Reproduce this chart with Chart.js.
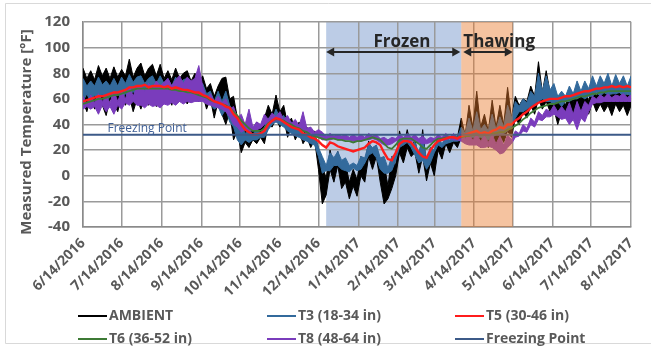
<!DOCTYPE html>
<html lang="en">
<head>
  <meta charset="UTF-8">
  <title>Measured Temperature</title>
  <style>
    html, body { margin: 0; padding: 0; background: #fff; }
    .chart-container { position: relative; width: 651px; height: 349px; }
  </style>
</head>
<body>
  <div class="chart-container">
    <canvas id="temperature-chart" width="651" height="349"></canvas>
  </div>

  <script src="https://cdn.jsdelivr.net/npm/chart.js@4.4.1/dist/chart.umd.min.js"></script>
  <script>
    // one sample every 3 days, day 0 = 6/14/2016
    const STEP_DAYS = 3;
    const X_MAX_DAYS = 426;
    const TICK_DAYS = [0, 30, 61, 92, 122, 153, 183, 214, 245, 273, 304, 334, 365, 395, 426];
    const TICK_LABELS = [
      '6/14/2016', '7/14/2016', '8/14/2016', '9/14/2016', '10/14/2016', '11/14/2016', '12/14/2016',
      '1/14/2017', '2/14/2017', '3/14/2017', '4/14/2017', '5/14/2017', '6/14/2017', '7/14/2017', '8/14/2017'
    ];
    const Y_MIN = -40;
    const Y_MAX = 120;
    const Y_STEP = 20;

    const FREEZING_POINT = 32;
    const FROZEN_DAYS = [189, 294];
    const THAWING_DAYS = [294, 334];

    // noisy sensors: high / low envelope of the hourly readings
    const AMBIENT_HIGH = [
      84, 76, 82, 75, 86, 78, 84, 76, 85, 77, 83,
      78, 91, 77, 84, 88, 78, 84, 87, 78, 87,
      76, 82, 75, 84, 76, 80, 82, 74, 80, 72,
      78, 68, 72, 62, 70, 76, 77, 60, 62, 45,
      45, 36, 40, 36, 42, 38, 45, 55, 48, 63,
      50, 55, 40, 45, 35, 42, 32, 38, 30, 35, 20,
      8, -2, 20, 8, 19, 5, 10, -5, 5, -3,
      15, 8, 27, 18, 22, 10, 10, -8, 15, 8,
      35, 22, 36, 22, 28, 12, 36, 8, 22, 18,
      32, 22, 30, 25, 32, 30, 45, 32, 55, 38,
      66, 38, 48, 35, 59, 38, 55, 40, 69, 45,
      62, 55, 60, 58, 70, 62, 89, 65, 82, 65,
      70, 55, 63, 55, 66, 58, 68, 60, 70, 58,
      72, 62, 70, 64, 72, 62, 72, 64, 68, 62, 70
    ];
    const AMBIENT_LOW = [
      58, 50, 62, 52, 60, 55, 47, 60, 56, 50, 62,
      55, 62, 50, 60, 52, 62, 55, 60, 54, 62,
      56, 62, 55, 64, 58, 62, 56, 62, 60, 58,
      64, 52, 60, 45, 58, 48, 40, 50, 28, 35,
      18, 26, 22, 28, 25, 30, 25, 40, 38, 45,
      38, 45, 30, 38, 28, 35, 25, 30, 22, 28, 5,
      -22, -15, 5, -5, 8, -10, -5, -18, -8, -16,
      0, -5, 15, 5, 15, -5, -22, -18, -10, 0,
      18, 10, 22, 15, 18, 2, 15, -4, 10, 0,
      20, 13, 25, 18, 26, 22, 30, 26, 30, 24,
      30, 22, 28, 22, 30, 24, 32, 26, 35, 30,
      45, 40, 50, 45, 55, 48, 60, 52, 58, 50,
      52, 40, 50, 45, 55, 48, 58, 50, 55, 48,
      58, 50, 56, 50, 55, 47, 56, 50, 55, 47, 55
    ];
    const T3_HIGH = [
      76, 70, 74, 70, 77, 71, 74, 70, 76, 70, 77,
      72, 79, 73, 77, 78, 72, 76, 78, 72, 78,
      72, 76, 70, 77, 72, 75, 76, 70, 74, 68,
      72, 64, 66, 58, 66, 58, 66, 55, 50, 40,
      40, 33, 36, 32, 37, 33, 38, 45, 44, 52,
      45, 47, 40, 42, 36, 38, 32, 35, 30, 32, 22,
      15, 8, 18, 14, 19, 12, 14, 8, 10, 8,
      15, 14, 25, 22, 24, 14, 15, 6, 15, 16,
      30, 27, 32, 25, 26, 18, 30, 12, 22, 20,
      30, 25, 30, 28, 31, 30, 38, 33, 45, 35,
      50, 36, 40, 35, 48, 36, 46, 38, 55, 45,
      58, 54, 60, 57, 66, 62, 80, 66, 78, 67,
      72, 62, 66, 62, 70, 64, 74, 66, 74, 68,
      78, 70, 78, 72, 80, 70, 79, 72, 78, 70, 78
    ];
    const T3_LOW = [
      58, 64, 57, 63, 58, 64, 57, 62, 60, 64, 60,
      64, 62, 66, 61, 65, 62, 66, 62, 65, 62,
      66, 62, 65, 62, 66, 60, 65, 61, 65, 60,
      62, 56, 56, 52, 54, 47, 52, 42, 38, 28,
      24, 28, 26, 28, 28, 30, 30, 36, 40, 42,
      40, 38, 35, 33, 31, 30, 28, 27, 25, 24, 15,
      2, 4, 4, 8, 8, 5, 4, 3, 6, 4,
      5, 10, 16, 18, 14, 5, 2, 2, 4, 12,
      22, 24, 26, 22, 16, 10, 12, 5, 10, 18,
      24, 22, 25, 26, 27, 27, 28, 30, 30, 30,
      30, 30, 28, 28, 30, 32, 32, 33, 35, 38,
      45, 50, 50, 52, 54, 56, 58, 60, 58, 58,
      56, 58, 54, 58, 58, 60, 60, 62, 60, 62,
      62, 65, 62, 65, 63, 64, 64, 65, 62, 64, 62
    ];
    const T8_HIGH = [
      62, 56, 63, 57, 64, 58, 62, 57, 66, 58, 66,
      60, 70, 62, 70, 70, 66, 72, 68, 74, 70,
      73, 76, 70, 75, 78, 72, 77, 74, 76, 86,
      70, 60, 64, 58, 62, 57, 60, 52, 54, 45,
      48, 40, 52, 38, 42, 40, 48, 44, 49, 46,
      50, 44, 47, 41, 44, 39, 50, 37, 38, 34, 36,
      34, 31, 33, 31, 32, 31, 32, 30, 32, 30,
      32, 30, 33, 31, 32, 29, 30, 28, 30, 29,
      32, 30, 33, 30, 32, 29, 31, 28, 30, 29,
      32, 30, 33, 30, 33, 30, 33, 29, 32, 28,
      32, 27, 31, 26, 32, 25, 31, 24, 32, 28,
      35, 33, 40, 37, 45, 42, 50, 47, 52, 50,
      55, 50, 54, 50, 57, 48, 58, 50, 58, 55,
      62, 60, 63, 61, 64, 61, 63, 62, 64, 61, 63
    ];
    const T8_LOW = [
      52, 54, 52, 54, 48, 55, 50, 54, 48, 55, 52,
      57, 55, 58, 55, 55, 53, 56, 54, 55, 53,
      56, 55, 57, 55, 58, 56, 58, 57, 58, 58,
      58, 56, 55, 54, 53, 52, 50, 46, 40, 38,
      34, 36, 35, 35, 36, 37, 40, 42, 42, 43,
      43, 42, 40, 39, 37, 36, 35, 34, 33, 32, 30,
      28, 28, 28, 29, 28, 28, 28, 28, 27, 27,
      27, 28, 28, 29, 28, 26, 24, 24, 25, 27,
      28, 28, 28, 27, 27, 26, 25, 25, 26, 27,
      28, 28, 28, 29, 28, 28, 27, 25, 24, 24,
      24, 22, 22, 23, 22, 20, 17, 18, 22, 25,
      30, 31, 35, 34, 40, 38, 44, 43, 46, 46,
      48, 46, 44, 45, 40, 44, 36, 45, 42, 50,
      56, 57, 57, 58, 58, 58, 58, 58, 58, 58, 58
    ];
    // deeper sensors: smooth single trace
    const T5 = [
      58, 59, 60, 61, 62, 62, 63, 64, 65, 65,
      66, 67, 69, 69, 70, 70, 71, 69, 70, 70,
      70, 69, 70, 68, 69, 68, 67, 67, 66, 65,
      65, 63, 62, 60, 58, 57, 56, 54, 53, 48,
      45, 40, 36, 34, 32, 32, 33, 35, 40, 43,
      45, 44, 42, 40, 38, 37, 36, 33, 32, 30,
      29, 27, 24, 22, 26, 25, 23, 22, 21, 20,
      19, 20, 21, 22, 25, 27, 26, 24, 18, 13,
      12, 18, 25, 27, 27, 26, 22, 18, 15, 14,
      20, 24, 27, 28, 29, 30, 30, 29, 31, 32,
      33, 34, 35, 33, 34, 33, 35, 36, 38, 37,
      40, 40, 43, 45, 48, 50, 53, 55, 57, 58,
      59, 60, 60, 60, 61, 62, 62, 63, 64, 65,
      66, 66, 67, 68, 68, 69, 69, 70, 69, 70,
      69, 70, 69
    ];
    const T6 = [
      56, 57, 58, 59, 60, 60, 61, 62, 63, 63,
      64, 65, 66, 67, 68, 68, 68, 68, 68, 68,
      68, 68, 68, 67, 67, 66, 66, 65, 65, 64,
      63, 62, 61, 59, 58, 57, 56, 55, 53, 50,
      47, 43, 40, 37, 35, 35, 35, 37, 41, 43,
      44, 44, 43, 41, 40, 38, 37, 35, 34, 32,
      31, 30, 29, 28, 29, 29, 28, 28, 27, 27,
      26, 27, 27, 28, 29, 30, 29, 28, 25, 22,
      21, 24, 28, 29, 29, 29, 27, 25, 22, 21,
      24, 27, 29, 29, 30, 30, 30, 30, 30, 31,
      31, 32, 32, 32, 32, 32, 33, 33, 34, 34,
      36, 37, 39, 41, 44, 46, 49, 51, 53, 54,
      55, 56, 56, 57, 58, 58, 59, 60, 61, 62,
      62, 63, 64, 64, 65, 65, 66, 66, 66, 66,
      66, 66, 66
    ];

    // order: lower number is drawn on top
    const SERIES = [
      { label: 'AMBIENT', high: AMBIENT_HIGH, low: AMBIENT_LOW, color: '#000000', order: 5 },
      { label: 'T3 (18-34 in)', high: T3_HIGH, low: T3_LOW, color: '#336a9c', order: 4 },
      { label: 'T5 (30-46 in)', values: T5, color: '#ff1c1c', width: 2.4, order: 1 },
      { label: 'T6 (36-52 in)', values: T6, color: '#3d7a35', width: 1.8, order: 2 },
      { label: 'T8 (48-64 in)', high: T8_HIGH, low: T8_LOW, color: '#7a3cbc', order: 3 },
      { label: 'Freezing Point', values: [FREEZING_POINT], color: '#3c5a88', width: 2, order: 0 },
    ];

    const FONT_FAMILY = '"Open Sans", "Liberation Sans", sans-serif';
    const TEXT_COLOR = '#595959';

    function toPoints(values) {
      if (values.length === 1) {
        return [{ x: 0, y: values[0] }, { x: X_MAX_DAYS, y: values[0] }];
      }
      return values.map((v, i) => ({ x: i * STEP_DAYS, y: v }));
    }

    function buildDatasets() {
      const datasets = [];
      for (const s of SERIES) {
        if (s.high) {
          const lowIndex = datasets.length + 1;
          datasets.push({
            label: s.label, data: toPoints(s.high), order: s.order,
            borderColor: s.color, backgroundColor: s.color, borderWidth: 1,
            fill: lowIndex
          });
          datasets.push({
            label: s.label, data: toPoints(s.low), order: s.order,
            borderColor: s.color, backgroundColor: s.color, borderWidth: 1,
            fill: false
          });
        } else {
          datasets.push({
            label: s.label, data: toPoints(s.values), order: s.order,
            borderColor: s.color, backgroundColor: s.color, borderWidth: s.width,
            fill: false
          });
        }
      }
      return datasets;
    }

    function drawArrow(ctx, x1, x2, y) {
      ctx.save();
      ctx.strokeStyle = '#262626';
      ctx.fillStyle = '#262626';
      ctx.lineWidth = 2;
      ctx.beginPath();
      ctx.moveTo(x1 + 3, y);
      ctx.lineTo(x2 - 3, y);
      ctx.stroke();
      [[x1, 1], [x2, -1]].forEach(([x, d]) => {
        ctx.beginPath();
        ctx.moveTo(x, y);
        ctx.lineTo(x + d * 8, y - 4.5);
        ctx.lineTo(x + d * 8, y + 4.5);
        ctx.closePath();
        ctx.fill();
      });
      ctx.restore();
    }

    const regionsPlugin = {
      id: 'regions',
      beforeDraw(chart) {
        const { ctx, chartArea, scales: { x } } = chart;
        ctx.save();
        ctx.fillStyle = '#fff';
        ctx.fillRect(0, 0, chart.width, chart.height);
        // outer frame
        ctx.strokeStyle = '#d9d9d9';
        ctx.lineWidth = 1;
        ctx.beginPath();
        ctx.moveTo(651, 3.5);
        ctx.lineTo(5.5, 3.5);
        ctx.lineTo(5.5, 343.5);
        ctx.lineTo(651, 343.5);
        ctx.stroke();
        // frozen period
        const x1 = x.getPixelForValue(FROZEN_DAYS[0]);
        const x2 = x.getPixelForValue(FROZEN_DAYS[1]);
        ctx.fillStyle = '#bccce6';
        ctx.fillRect(x1, chartArea.top, x2 - x1, chartArea.bottom - chartArea.top);
        ctx.restore();
      },
      afterDatasetsDraw(chart) {
        const { ctx, chartArea, scales: { x } } = chart;
        const x1 = x.getPixelForValue(THAWING_DAYS[0]);
        const x2 = x.getPixelForValue(THAWING_DAYS[1]);
        ctx.save();
        ctx.fillStyle = 'rgba(232, 122, 45, 0.45)';
        ctx.fillRect(x1, chartArea.top, x2 - x1, chartArea.bottom - chartArea.top);
        ctx.restore();
      },
      afterDraw(chart) {
        const { ctx, scales: { x, y } } = chart;
        ctx.save();

        // period arrows and labels
        const arrowY = y.getPixelForValue(96.5);
        const fx1 = x.getPixelForValue(FROZEN_DAYS[0]);
        const fx2 = x.getPixelForValue(FROZEN_DAYS[1]);
        const tx2 = x.getPixelForValue(THAWING_DAYS[1]);
        drawArrow(ctx, fx1, fx2 - 1, arrowY);
        drawArrow(ctx, fx2 + 2, tx2, arrowY);
        ctx.fillStyle = '#262626';
        ctx.font = `bold 17px ${FONT_FAMILY}`;
        ctx.textBaseline = 'middle';
        ctx.textAlign = 'center';
        ctx.fillText('Frozen', 402, arrowY - 10);
        ctx.textAlign = 'left';
        ctx.fillText('Thawing', fx2 + 2, arrowY - 10);

        // freezing point label
        ctx.fillStyle = '#3f5f96';
        ctx.font = `12px ${FONT_FAMILY}`;
        ctx.fillText('Freezing Point', x.getPixelForValue(19), y.getPixelForValue(FREEZING_POINT + 4.5));

        // y axis title
        ctx.save();
        ctx.translate(27, 132);
        ctx.rotate(-Math.PI / 2);
        ctx.fillStyle = TEXT_COLOR;
        ctx.font = `bold 15px ${FONT_FAMILY}`;
        ctx.textAlign = 'center';
        ctx.fillText('Measured Temperature [°F]', 0, 0);
        ctx.restore();

        // legend: 3 columns x 2 rows
        const cols = [78, 267, 455];
        const rows = [316, 339];
        ctx.font = `bold 14px ${FONT_FAMILY}`;
        SERIES.forEach((s, i) => {
          const lx = cols[i % 3];
          const ly = rows[Math.floor(i / 3)];
          ctx.strokeStyle = s.color;
          ctx.lineWidth = 2;
          ctx.beginPath();
          ctx.moveTo(lx, ly);
          ctx.lineTo(lx + 29, ly);
          ctx.stroke();
          ctx.fillStyle = TEXT_COLOR;
          ctx.textAlign = 'left';
          ctx.fillText(s.label, lx + 31, ly);
        });
        ctx.restore();
      }
    };

    const ctx = document.getElementById('temperature-chart');
    new Chart(ctx, {
      type: 'line',
      data: { datasets: buildDatasets() },
      plugins: [regionsPlugin],
      options: {
        responsive: false,
        animation: false,
        layout: { padding: { left: 0, right: 16, top: 20, bottom: 0 } },
        elements: { point: { radius: 0 }, line: { tension: 0 } },
        plugins: {
          legend: { display: false },
          tooltip: { enabled: false }
        },
        scales: {
          x: {
            type: 'linear',
            min: 0,
            max: X_MAX_DAYS,
            afterBuildTicks: (axis) => {
              axis.ticks = TICK_DAYS.map(v => ({ value: v }));
            },
            afterFit: (axis) => { axis.height = 122; },
            grid: { color: '#9a9a9a', lineWidth: 1.5, drawTicks: false },
            border: { color: '#8a8a8a', width: 1.5 },
            ticks: {
              autoSkip: false,
              minRotation: 45,
              maxRotation: 45,
              padding: 8,
              color: TEXT_COLOR,
              font: { family: FONT_FAMILY, size: 14, weight: 'bold' },
              callback: (value, index) => TICK_LABELS[index]
            }
          },
          y: {
            min: Y_MIN,
            max: Y_MAX,
            afterFit: (axis) => { axis.width = 83; },
            grid: { color: '#9a9a9a', lineWidth: 1.5, drawTicks: false },
            border: { color: '#8a8a8a', width: 1.5 },
            ticks: {
              stepSize: Y_STEP,
              padding: 13,
              color: TEXT_COLOR,
              font: { family: FONT_FAMILY, size: 15, weight: 'bold' }
            }
          }
        }
      }
    });
  </script>
</body>
</html>
